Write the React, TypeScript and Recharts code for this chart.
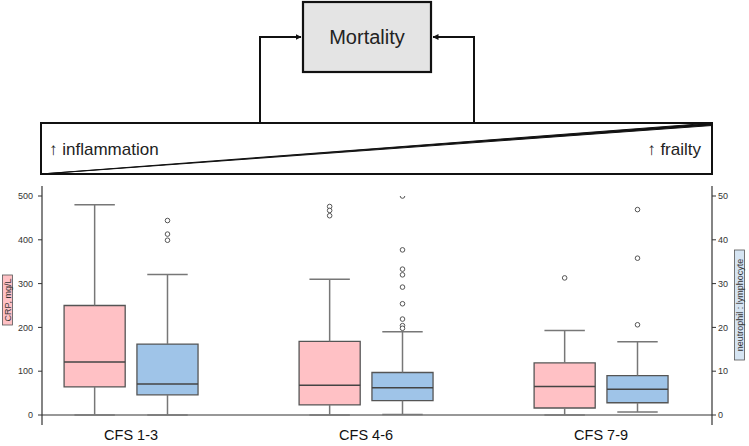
import React from 'react';
import {
  ComposedChart,
  XAxis,
  YAxis,
  ReferenceArea,
  ReferenceLine,
  Scatter,
} from 'recharts';

// ---- data ----
const categories = ['CFS 1-3', 'CFS 4-6', 'CFS 7-9'];

// CRP, mg/L (left axis)
const crpMin = [0, 0, 0];
const crpQ1 = [64, 23, 16];
const crpMedian = [121, 68, 65];
const crpQ3 = [250, 168, 119];
const crpMax = [480, 310, 193];
const crpOutliers = [[], [476, 467, 455], [313]];

// neutrophil : lymphocyte (right axis)
const nlrMin = [0, 0.1, 0.7];
const nlrQ1 = [4.6, 3.3, 2.8];
const nlrMedian = [7.1, 6.2, 5.9];
const nlrQ3 = [16.2, 9.7, 9.0];
const nlrMax = [32.1, 19.0, 16.7];
const nlrOutliers = [
  [44.4, 41.3, 39.9],
  [50.0, 37.7, 33.3, 32.0, 29.2, 25.4, 21.9, 20.4, 19.8],
  [46.9, 35.8, 20.6],
];

const crpTicks = [0, 100, 200, 300, 400, 500];
const nlrTicks = [0, 10, 20, 30, 40, 50];

// ---- styling / layout ----
const PINK = '#ffc1c5';
const BLUE = '#9fc4e8';
const BOX_STROKE = '#555';
const WHISKER = '#777';
const OFFSET = 0.155; // category-relative offset of each box centre
const HALF_BOX = 0.13;
const HALF_CAP = 0.086;
const FONT = '"Liberation Sans", Arial, sans-serif';

type Stats = {
  min: number[];
  q1: number[];
  med: number[];
  q3: number[];
  max: number[];
};

const crpStats: Stats = { min: crpMin, q1: crpQ1, med: crpMedian, q3: crpQ3, max: crpMax };
const nlrStats: Stats = { min: nlrMin, q1: nlrQ1, med: nlrMedian, q3: nlrQ3, max: nlrMax };

function boxElements(stats: Stats, axisId: string, sign: number, fill: string, key: string) {
  const els: React.ReactNode[] = [];
  categories.forEach((_, i) => {
    const c = i + 1 + sign * OFFSET;
    els.push(
      <ReferenceLine
        key={`${key}-wl-${i}`}
        yAxisId={axisId}
        segment={[{ x: c, y: stats.min[i] }, { x: c, y: stats.q1[i] }]}
        stroke={WHISKER}
        strokeWidth={1.5}
        ifOverflow="visible"
      />,
      <ReferenceLine
        key={`${key}-wh-${i}`}
        yAxisId={axisId}
        segment={[{ x: c, y: stats.q3[i] }, { x: c, y: stats.max[i] }]}
        stroke={WHISKER}
        strokeWidth={1.5}
        ifOverflow="visible"
      />,
      <ReferenceLine
        key={`${key}-cl-${i}`}
        yAxisId={axisId}
        segment={[{ x: c - HALF_CAP, y: stats.min[i] }, { x: c + HALF_CAP, y: stats.min[i] }]}
        stroke={WHISKER}
        strokeWidth={1.5}
        ifOverflow="visible"
      />,
      <ReferenceLine
        key={`${key}-ch-${i}`}
        yAxisId={axisId}
        segment={[{ x: c - HALF_CAP, y: stats.max[i] }, { x: c + HALF_CAP, y: stats.max[i] }]}
        stroke={WHISKER}
        strokeWidth={1.5}
        ifOverflow="visible"
      />,
      <ReferenceArea
        key={`${key}-box-${i}`}
        yAxisId={axisId}
        x1={c - HALF_BOX}
        x2={c + HALF_BOX}
        y1={stats.q1[i]}
        y2={stats.q3[i]}
        fill={fill}
        fillOpacity={1}
        stroke={BOX_STROKE}
        strokeWidth={1.3}
        ifOverflow="visible"
      />,
      <ReferenceLine
        key={`${key}-med-${i}`}
        yAxisId={axisId}
        segment={[{ x: c - HALF_BOX, y: stats.med[i] }, { x: c + HALF_BOX, y: stats.med[i] }]}
        stroke="#444"
        strokeWidth={1.5}
        ifOverflow="visible"
      />
    );
  });
  return els;
}

const crpOutlierPoints = crpOutliers.flatMap((vals, i) =>
  vals.map((v) => ({ x: i + 1 - OFFSET, y: v }))
);
const nlrOutlierPoints = nlrOutliers.flatMap((vals, i) =>
  vals.map((v) => ({ x: i + 1 + OFFSET, y: v }))
);

const OutlierDot = (props: any) => {
  const { cx, cy } = props;
  if (cx == null || cy == null) return null;
  return <circle cx={cx} cy={cy} r={2.3} fill="#fff" stroke="#555" strokeWidth={1} />;
};

function Diagram() {
  return (
    <svg
      width={749}
      height={446}
      style={{ position: 'absolute', left: 0, top: 0, pointerEvents: 'none' }}
    >
      <defs>
        <marker id="arr" markerWidth="6" markerHeight="6" refX="5.5" refY="3" orient="auto" markerUnits="userSpaceOnUse">
          <path d="M0,0 L6,3 L0,6 z" fill="#111" />
        </marker>
      </defs>
      {/* Mortality box */}
      <rect x={303} y={2} width={128} height={70} fill="#e4e4e4" stroke="#111" strokeWidth={2.2} />
      <text x={367} y={44} textAnchor="middle" fontFamily={FONT} fontSize={20} fill="#222">
        Mortality
      </text>
      {/* arrows */}
      <polyline points="260,123 260,37 301,37" fill="none" stroke="#111" strokeWidth={2} markerEnd="url(#arr)" />
      <polyline points="474,123 474,37 433,37" fill="none" stroke="#111" strokeWidth={2} markerEnd="url(#arr)" />
      {/* wedge box */}
      <rect x={41} y={123} width={671} height={51} fill="#fff" stroke="#111" strokeWidth={2} />
      <polygon points="41,174 712,123 712,125.5 41,174" fill="#111" stroke="#111" strokeWidth={1} />
      <text x={49} y={155} fontFamily={FONT} fontSize={17} fill="#222">
        ↑ inflammation
      </text>
      <text x={701} y={155} textAnchor="end" fontFamily={FONT} fontSize={17} fill="#222">
        ↑ frailty
      </text>
      {/* axis labels */}
      <g transform="translate(7.5,300) rotate(-90)">
        <rect x={-25} y={-5} width={50} height={10} fill={PINK} stroke="#555" strokeWidth={0.8} />
        <text x={0} y={0} textAnchor="middle" dominantBaseline="central" fontFamily={FONT} fontSize={9} fill="#333">
          CRP, mg/L
        </text>
      </g>
      <g transform="translate(739.5,305) rotate(-90)">
        <rect x={-55} y={-5} width={110} height={10} fill="#d5e4f2" stroke="#555" strokeWidth={0.8} />
        <text x={0} y={0} textAnchor="middle" dominantBaseline="central" fontFamily={FONT} fontSize={9} fill="#333">
          neutrophil : lymphocyte
        </text>
      </g>
    </svg>
  );
}

export default function App() {
  return (
    <div
      style={{
        position: 'absolute',
        left: 0,
        top: 0,
        width: 749,
        height: 446,
        background: '#fff',
        overflow: 'hidden',
      }}
    >
      <ComposedChart
        width={749}
        height={446}
        margin={{ top: 186, right: 0, bottom: 0, left: 0 }}
      >
        <XAxis
          dataKey="x"
          type="number"
          domain={[0.621, 3.472]}
          ticks={[1, 2, 3]}
          tickFormatter={(v: number) => categories[Math.round(v) - 1] ?? ''}
          axisLine={false}
          tickLine={false}
          tickSize={0}
          tickMargin={5}
          height={21}
          allowDataOverflow
          tick={{ fontSize: 14.5, fill: '#111', fontFamily: FONT }}
        />
        <YAxis
          yAxisId="left"
          dataKey="y"
          type="number"
          domain={[0, 500]}
          ticks={crpTicks}
          width={42}
          padding={{ top: 10, bottom: 10 }}
          allowDataOverflow
          tickSize={4}
          tickMargin={5}
          axisLine={{ stroke: '#333', strokeWidth: 1.2 }}
          tickLine={{ stroke: '#333' }}
          tick={{ fontSize: 9, fill: '#333', fontFamily: FONT }}
        />
        <YAxis
          yAxisId="right"
          orientation="right"
          dataKey="y"
          type="number"
          domain={[0, 50]}
          ticks={nlrTicks}
          width={37}
          padding={{ top: 10, bottom: 10 }}
          allowDataOverflow
          tickSize={4}
          tickMargin={2}
          axisLine={{ stroke: '#333', strokeWidth: 1.2 }}
          tickLine={{ stroke: '#333' }}
          tick={{ fontSize: 9, fill: '#333', fontFamily: FONT }}
        />
        <ReferenceLine yAxisId="left" y={0} stroke="#333" strokeWidth={1.2} />
        {boxElements(crpStats, 'left', -1, PINK, 'crp')}
        {boxElements(nlrStats, 'right', 1, BLUE, 'nlr')}
        <Scatter
          yAxisId="left"
          data={crpOutlierPoints}
          dataKey="y"
          shape={OutlierDot}
          isAnimationActive={false}
        />
        <Scatter
          yAxisId="right"
          data={nlrOutlierPoints}
          dataKey="y"
          shape={OutlierDot}
          isAnimationActive={false}
        />
      </ComposedChart>
      <Diagram />
    </div>
  );
}
